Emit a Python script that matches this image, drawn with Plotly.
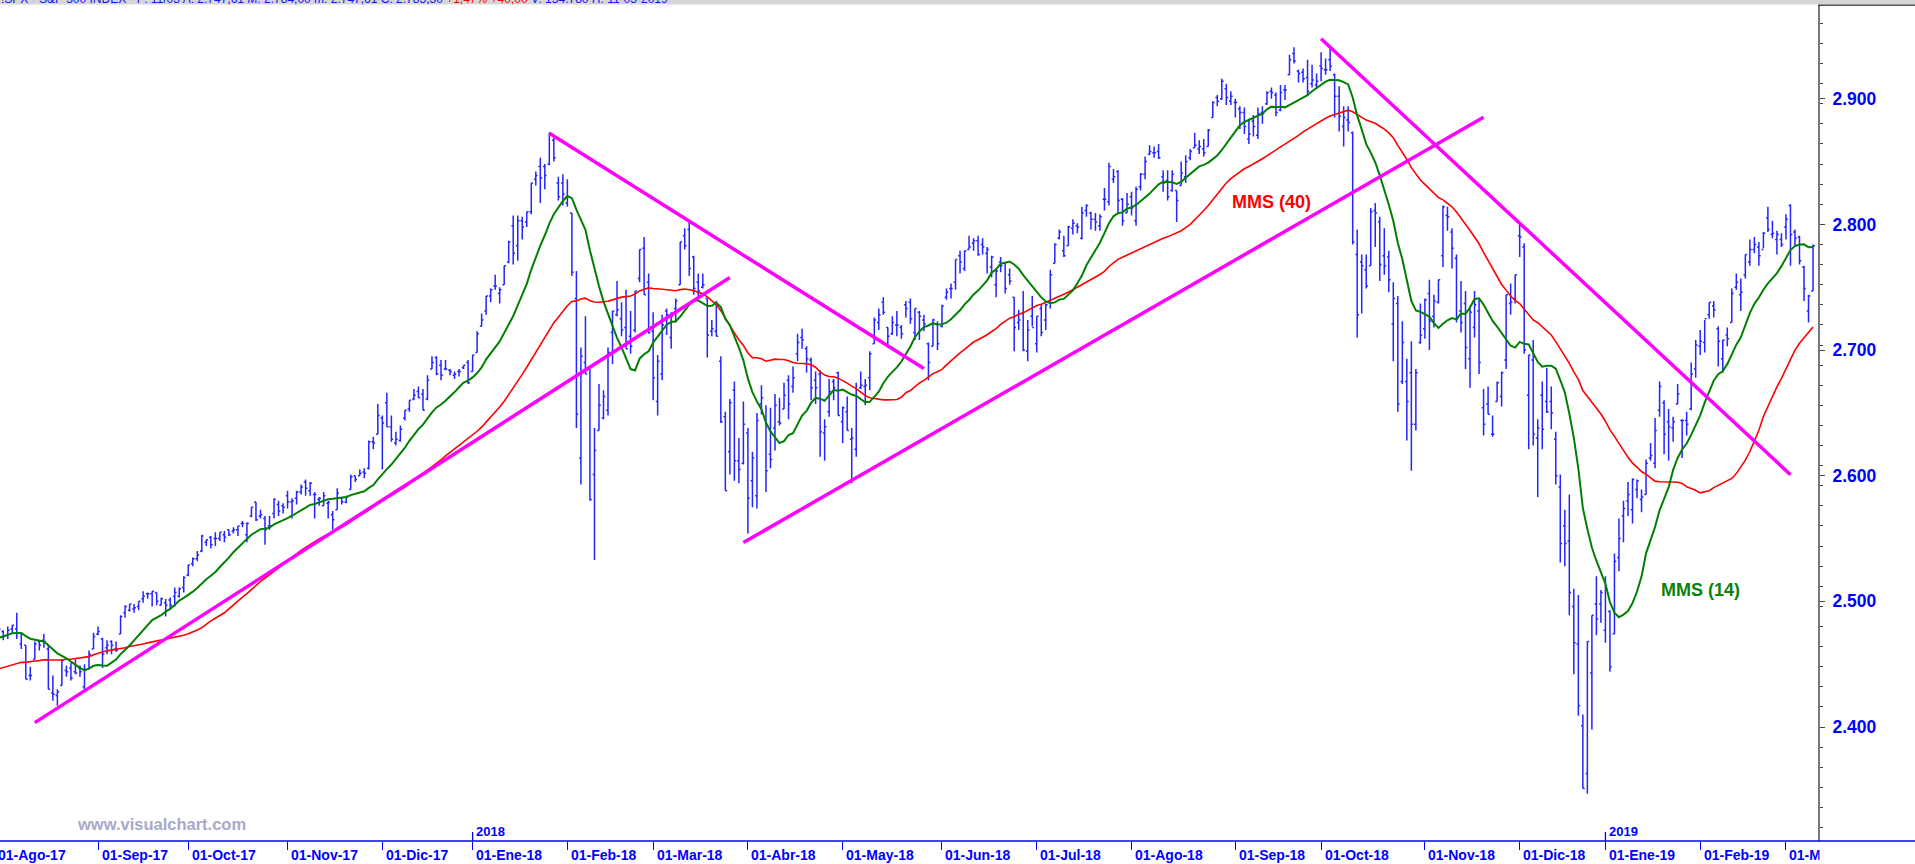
import numpy as np
import pandas as pd
import plotly.graph_objects as go

# ---------------- DATA (S&P 500 daily bars) ----------------
# closes used only to warm up the moving averages (Jun-Jul 2017, off-screen)
warmup_closes = [
    2430, 2439, 2436, 2429, 2433, 2434, 2432, 2429, 2440, 2438, 2432, 2433, 2453, 2437, 2436, 2435, 2438, 2439, 2419, 2441, 2420, 2423,
    2429, 2433, 2410, 2425, 2427, 2426, 2443, 2448, 2459, 2459, 2461, 2474, 2473, 2473, 2470, 2477, 2478, 2475, 2472, 2470,
]

opens = [
    # Aug-17
    2477, 2480, 2476, 2473, 2478, 2478, 2466, 2465, 2441, 2454, 2468, 2469, 2462, 2427, 2425, 2433, 2445, 2447, 2444, 2447, 2432, 2446, 2462,
    # Sep-17
    2474, 2470, 2463, 2468, 2462, 2474, 2491, 2493, 2494, 2496, 2502, 2506, 2506, 2507, 2497, 2499, 2501, 2504, 2504, 2511,
    # Oct-17
    2521, 2530, 2534, 2540, 2547, 2551, 2550, 2550, 2553, 2557, 2556, 2557, 2562, 2553, 2568, 2579, 2568, 2566, 2560, 2570, 2577, 2576,
    # Nov-17
    2584, 2579, 2582, 2587, 2595, 2588, 2585, 2581, 2576, 2578, 2569, 2573, 2582, 2579, 2589, 2600, 2600, 2603, 2606, 2627, 2633,
    # Dec-17
    2646, 2658, 2639, 2626, 2628, 2646, 2653, 2661, 2667, 2665, 2661, 2685, 2694, 2688, 2685, 2684, 2680, 2683, 2686, 2690,
    # Jan-18
    2683, 2698, 2719, 2731, 2743, 2751, 2745, 2752, 2770, 2799, 2783, 2803, 2802, 2810, 2836, 2846, 2846, 2848, 2867, 2833, 2833,
    # Feb-18
    2817, 2809, 2741, 2614, 2690, 2686, 2601, 2636, 2646, 2652, 2714, 2728, 2725, 2718, 2711, 2716, 2757, 2781, 2754,
    # Mar-18
    2715, 2659, 2681, 2731, 2710, 2733, 2752, 2791, 2796, 2774, 2754, 2750, 2741, 2715, 2715, 2691, 2647, 2619, 2668, 2612, 2610,
    # Apr-18
    2634, 2596, 2584, 2657, 2645, 2617, 2638, 2643, 2653, 2676, 2671, 2697, 2710, 2701, 2692, 2676, 2681, 2634, 2651, 2675, 2682,
    # May-18
    2643, 2651, 2629, 2621, 2670, 2671, 2678, 2705, 2722, 2738, 2718, 2713, 2720, 2718, 2736, 2738, 2714, 2730, 2724, 2705, 2703, 2721,
    # Jun-18
    2719, 2742, 2749, 2754, 2775, 2765, 2780, 2785, 2787, 2784, 2777, 2766, 2752, 2770, 2769, 2760, 2742, 2722, 2729, 2699, 2727,
    # Jul-18
    2705, 2733, 2724, 2738, 2769, 2789, 2779, 2783, 2797, 2799, 2789, 2811, 2809, 2804, 2799, 2820, 2818, 2836, 2842, 2820, 2809,
    # Aug-18
    2822, 2803, 2830, 2840, 2856, 2857, 2858, 2838, 2835, 2827, 2827, 2831, 2838, 2853, 2861, 2860, 2860, 2862, 2885, 2901, 2900, 2908, 2898,
    # Sep-18
    2897, 2892, 2889, 2868, 2882, 2871, 2889, 2896, 2906, 2903, 2891, 2907, 2919, 2936, 2922, 2921, 2917, 2912, 2911,
    # Oct-18
    2926, 2923, 2931, 2919, 2902, 2878, 2883, 2873, 2776, 2770, 2764, 2767, 2811, 2802, 2775, 2774, 2721, 2737, 2675, 2675, 2682, 2641, 2706,
    # Nov-18
    2717, 2745, 2727, 2738, 2775, 2807, 2794, 2773, 2731, 2737, 2693, 2718, 2731, 2654, 2657, 2633, 2659, 2663, 2692, 2737, 2741,
    # Dec-18
    2791, 2782, 2664, 2692, 2630, 2664, 2659, 2659, 2629, 2591, 2560, 2548, 2496, 2466, 2401, 2363, 2443, 2498, 2498,
    # Jan-19
    2477, 2492, 2474, 2535, 2568, 2580, 2573, 2589, 2581, 2585, 2614, 2610, 2652, 2658, 2643, 2638, 2657, 2644, 2644, 2653, 2685,
    # Feb-19
    2703, 2706, 2728, 2735, 2717, 2693, 2712, 2722, 2750, 2744, 2760, 2770, 2780, 2782, 2780, 2805, 2792, 2788, 2788,
    # Mar-19
    2798, 2815, 2794, 2790, 2766, 2731, 2747,
]

highs = [
    2479, 2480, 2477, 2480, 2481, 2491, 2475, 2465, 2448, 2468, 2469, 2474, 2465, 2441, 2430, 2454, 2449, 2451, 2454, 2449, 2450, 2461, 2475,
    2480, 2471, 2469, 2469, 2468, 2489, 2497, 2498, 2498, 2500, 2508, 2507, 2508, 2507, 2503, 2502, 2503, 2511, 2511, 2520,
    2529, 2535, 2540, 2553, 2549, 2552, 2555, 2555, 2556, 2557, 2559, 2560, 2564, 2563, 2575, 2579, 2573, 2568, 2568, 2582, 2580, 2578,
    2588, 2582, 2588, 2593, 2597, 2595, 2587, 2583, 2587, 2580, 2572, 2590, 2583, 2584, 2601, 2600, 2605, 2606, 2628, 2631, 2657,
    2648, 2666, 2648, 2635, 2640, 2652, 2660, 2669, 2671, 2669, 2680, 2695, 2695, 2692, 2692, 2685, 2683, 2685, 2688, 2692,
    2696, 2715, 2729, 2743, 2749, 2760, 2750, 2767, 2787, 2807, 2807, 2806, 2810, 2833, 2842, 2853, 2848, 2873, 2870, 2838, 2840,
    2836, 2809, 2763, 2702, 2727, 2686, 2638, 2673, 2668, 2702, 2731, 2755, 2738, 2748, 2731, 2747, 2780, 2790, 2761,
    2730, 2696, 2728, 2733, 2730, 2741, 2786, 2797, 2802, 2775, 2761, 2761, 2741, 2724, 2739, 2695, 2651, 2661, 2675, 2630, 2659,
    2638, 2619, 2650, 2672, 2656, 2654, 2665, 2662, 2674, 2680, 2687, 2713, 2717, 2703, 2694, 2683, 2684, 2645, 2677, 2677, 2683,
    2655, 2663, 2638, 2674, 2683, 2677, 2699, 2726, 2733, 2742, 2718, 2727, 2731, 2720, 2739, 2741, 2733, 2731, 2728, 2706, 2725, 2723,
    2736, 2749, 2753, 2772, 2779, 2779, 2791, 2789, 2791, 2789, 2782, 2775, 2765, 2774, 2770, 2765, 2742, 2732, 2747, 2724, 2743,
    2727, 2736, 2737, 2764, 2785, 2796, 2791, 2799, 2804, 2801, 2814, 2816, 2810, 2809, 2808, 2829, 2849, 2844, 2843, 2821, 2825,
    2826, 2830, 2841, 2854, 2863, 2862, 2864, 2843, 2843, 2843, 2827, 2850, 2855, 2860, 2873, 2867, 2868, 2876, 2898, 2903, 2916, 2912, 2906,
    2900, 2894, 2893, 2884, 2887, 2893, 2894, 2906, 2909, 2905, 2911, 2911, 2935, 2941, 2923, 2924, 2931, 2927, 2920,
    2937, 2932, 2940, 2920, 2910, 2894, 2894, 2874, 2796, 2776, 2776, 2813, 2817, 2806, 2797, 2779, 2754, 2743, 2723, 2693, 2707, 2685, 2737,
    2741, 2756, 2744, 2756, 2815, 2814, 2797, 2776, 2755, 2747, 2735, 2747, 2741, 2669, 2671, 2648, 2675, 2683, 2744, 2753, 2760,
    2800, 2785, 2696, 2708, 2645, 2675, 2686, 2671, 2635, 2601, 2573, 2585, 2510, 2505, 2410, 2468, 2489, 2520, 2509,
    2520, 2493, 2538, 2566, 2580, 2595, 2598, 2597, 2589, 2613, 2626, 2646, 2675, 2660, 2653, 2647, 2673, 2645, 2651, 2690, 2708,
    2716, 2724, 2738, 2739, 2719, 2708, 2718, 2749, 2761, 2757, 2776, 2788, 2790, 2786, 2794, 2814, 2803, 2795, 2793,
    2808, 2816, 2796, 2791, 2767, 2744, 2784,
]

lows = [
    2471, 2467, 2469, 2470, 2475, 2470, 2462, 2438, 2437, 2454, 2461, 2463, 2430, 2421, 2417, 2433, 2440, 2437, 2442, 2440, 2429, 2446, 2462,
    2473, 2447, 2458, 2458, 2460, 2474, 2487, 2492, 2491, 2493, 2499, 2502, 2496, 2497, 2497, 2488, 2494, 2496, 2503, 2507,
    2520, 2528, 2532, 2539, 2544, 2542, 2544, 2548, 2547, 2552, 2554, 2552, 2559, 2547, 2567, 2564, 2566, 2545, 2557, 2566, 2568, 2570,
    2574, 2566, 2577, 2585, 2584, 2584, 2566, 2576, 2576, 2566, 2557, 2573, 2577, 2578, 2589, 2595, 2600, 2598, 2605, 2621, 2633,
    2605, 2639, 2627, 2624, 2627, 2644, 2651, 2660, 2662, 2652, 2660, 2685, 2680, 2676, 2684, 2680, 2677, 2679, 2685, 2673,
    2683, 2698, 2719, 2728, 2738, 2748, 2737, 2752, 2769, 2768, 2771, 2788, 2798, 2808, 2831, 2817, 2828, 2847, 2850, 2819, 2815,
    2814, 2759, 2638, 2593, 2681, 2580, 2533, 2636, 2645, 2648, 2689, 2727, 2711, 2701, 2697, 2714, 2754, 2744, 2713,
    2660, 2648, 2676, 2712, 2701, 2722, 2752, 2780, 2759, 2744, 2741, 2749, 2694, 2711, 2711, 2642, 2588, 2601, 2596, 2594, 2609,
    2554, 2575, 2574, 2649, 2587, 2606, 2620, 2640, 2653, 2645, 2666, 2691, 2701, 2682, 2660, 2657, 2615, 2612, 2647, 2660, 2648,
    2626, 2636, 2594, 2615, 2669, 2656, 2668, 2705, 2716, 2728, 2702, 2712, 2711, 2709, 2726, 2721, 2708, 2708, 2715, 2676, 2703, 2700,
    2718, 2740, 2741, 2748, 2761, 2763, 2780, 2779, 2775, 2776, 2761, 2758, 2742, 2762, 2745, 2752, 2699, 2716, 2699, 2691, 2719,
    2698, 2711, 2716, 2733, 2769, 2788, 2774, 2783, 2792, 2793, 2788, 2806, 2796, 2795, 2795, 2811, 2815, 2833, 2809, 2799, 2809,
    2807, 2799, 2827, 2836, 2855, 2853, 2852, 2826, 2819, 2826, 2802, 2831, 2833, 2851, 2861, 2856, 2854, 2862, 2885, 2894, 2899, 2895, 2895,
    2885, 2876, 2872, 2864, 2870, 2868, 2880, 2895, 2900, 2886, 2890, 2899, 2919, 2928, 2913, 2913, 2903, 2909, 2908,
    2914, 2919, 2922, 2885, 2874, 2862, 2874, 2784, 2710, 2729, 2749, 2767, 2782, 2755, 2760, 2746, 2691, 2651, 2673, 2628, 2604, 2636, 2705,
    2709, 2700, 2718, 2737, 2766, 2795, 2765, 2722, 2714, 2685, 2670, 2710, 2681, 2632, 2649, 2631, 2659, 2655, 2685, 2728, 2737,
    2774, 2697, 2621, 2624, 2583, 2621, 2650, 2637, 2593, 2531, 2528, 2489, 2442, 2409, 2351, 2347, 2398, 2473, 2483,
    2467, 2444, 2474, 2524, 2547, 2568, 2562, 2582, 2571, 2585, 2612, 2606, 2647, 2617, 2612, 2627, 2657, 2614, 2632, 2652, 2678,
    2696, 2698, 2725, 2726, 2687, 2682, 2703, 2722, 2748, 2731, 2757, 2767, 2777, 2767, 2781, 2794, 2789, 2776, 2782,
    2788, 2767, 2782, 2768, 2739, 2722, 2747,
]

closes = [
    2476, 2478, 2472, 2477, 2481, 2475, 2474, 2438, 2441, 2466, 2465, 2468, 2430, 2426, 2428, 2453, 2444, 2439, 2443, 2444, 2446, 2458, 2472,
    2476, 2458, 2465, 2465, 2461, 2488, 2496, 2498, 2495, 2500, 2504, 2506, 2508, 2500, 2502, 2497, 2497, 2507, 2510, 2519,
    2529, 2534, 2537, 2552, 2549, 2545, 2550, 2555, 2551, 2553, 2557, 2560, 2562, 2562, 2575, 2565, 2569, 2557, 2560, 2581, 2572, 2575,
    2579, 2580, 2587, 2591, 2590, 2594, 2585, 2582, 2584, 2579, 2565, 2586, 2579, 2583, 2599, 2597, 2602, 2602, 2627, 2626, 2648,
    2642, 2639, 2629, 2629, 2637, 2652, 2660, 2664, 2662, 2652, 2676, 2690, 2681, 2680, 2685, 2683, 2681, 2683, 2688, 2674,
    2696, 2713, 2724, 2743, 2748, 2751, 2748, 2767, 2786, 2777, 2803, 2798, 2810, 2833, 2839, 2837, 2839, 2873, 2853, 2822, 2824,
    2822, 2762, 2649, 2695, 2681, 2581, 2620, 2656, 2663, 2698, 2731, 2732, 2716, 2701, 2703, 2747, 2780, 2744, 2714,
    2678, 2691, 2720, 2728, 2727, 2739, 2786, 2783, 2765, 2749, 2747, 2752, 2712, 2717, 2711, 2643, 2588, 2658, 2612, 2605, 2641,
    2582, 2614, 2644, 2662, 2604, 2613, 2656, 2642, 2664, 2657, 2678, 2706, 2708, 2693, 2670, 2670, 2635, 2639, 2667, 2670, 2648,
    2654, 2636, 2630, 2663, 2672, 2672, 2697, 2724, 2728, 2730, 2711, 2722, 2720, 2713, 2733, 2725, 2733, 2727, 2721, 2690, 2724, 2705,
    2735, 2746, 2749, 2772, 2770, 2779, 2782, 2787, 2776, 2782, 2780, 2774, 2763, 2767, 2749, 2755, 2718, 2724, 2700, 2716, 2718,
    2727, 2714, 2736, 2760, 2784, 2794, 2775, 2798, 2801, 2798, 2809, 2815, 2804, 2802, 2806, 2820, 2846, 2838, 2819, 2803, 2816,
    2813, 2828, 2840, 2850, 2858, 2857, 2853, 2833, 2822, 2840, 2819, 2841, 2850, 2858, 2863, 2862, 2857, 2875, 2897, 2898, 2914, 2901, 2902,
    2897, 2889, 2878, 2872, 2878, 2888, 2888, 2905, 2905, 2889, 2905, 2907, 2931, 2930, 2920, 2916, 2906, 2915, 2914,
    2924, 2923, 2926, 2902, 2886, 2885, 2881, 2786, 2728, 2767, 2751, 2810, 2809, 2768, 2767, 2756, 2741, 2657, 2706, 2659, 2641, 2682, 2712,
    2740, 2723, 2739, 2756, 2814, 2806, 2781, 2726, 2722, 2702, 2730, 2736, 2690, 2641, 2649, 2633, 2674, 2682, 2744, 2738, 2760,
    2790, 2700, 2696, 2633, 2638, 2637, 2651, 2650, 2600, 2546, 2546, 2507, 2467, 2417, 2351, 2468, 2489, 2486, 2507,
    2510, 2448, 2532, 2550, 2574, 2585, 2597, 2596, 2583, 2610, 2616, 2636, 2671, 2633, 2639, 2643, 2665, 2644, 2641, 2681, 2704,
    2707, 2725, 2738, 2732, 2707, 2708, 2709, 2745, 2754, 2746, 2776, 2780, 2784, 2775, 2793, 2796, 2793, 2792, 2784,
    2804, 2792, 2789, 2771, 2749, 2743, 2783,
]

# market holidays (trading calendar)
holidays = ["2017-07-04", "2017-09-04", "2017-11-23", "2017-12-25", "2018-01-01", "2018-01-15",
            "2018-02-19", "2018-03-30", "2018-05-28", "2018-07-04", "2018-09-03", "2018-11-22",
            "2018-12-05", "2018-12-25", "2019-01-01", "2019-01-21", "2019-02-18"]

# trend lines drawn on the chart: (date, price) anchors
trend_start_dates = ["2017-08-14", "2018-01-26", "2018-03-29", "2018-10-01"]
trend_start_prices = [2403.5, 2872.5, 2546.8, 2947.8]
trend_end_dates = ["2018-03-26", "2018-05-25", "2018-11-20", "2019-03-04"]
trend_end_prices = [2757.7, 2685.3, 2885.2, 2600.8]

meses = ["Ene", "Feb", "Mar", "Abr", "May", "Jun", "Jul", "Ago", "Sep", "Oct", "Nov", "Dic"]
y_ticks = [2400, 2500, 2600, 2700, 2800, 2900]
y_ticktext = ["2.400", "2.500", "2.600", "2.700", "2.800", "2.900"]

ma_fast_label = "MMS (14)"
ma_slow_label = "MMS (40)"
ma_fast_pos = ("2019-02-01", 2509)
ma_slow_pos = ("2018-09-14", 2818)

# ---------------- LAYOUT CONSTANTS ----------------
W, H = 1915, 864
ML, MR, MT, MB = 0, 97, 5, 23
PW = W - ML - MR
PH = H - MT - MB
X0, X1 = 1.285, 404.1
Y0, Y1 = 2309.3, 2974.6
BLUE = "#0000ff"
FONT = "Liberation Sans"

cbd = pd.offsets.CustomBusinessDay(holidays=pd.to_datetime(holidays))
warm_dates = pd.date_range("2017-06-01", "2017-07-31", freq=cbd)
dates = pd.date_range("2017-08-01", "2019-03-11", freq=cbd)
assert len(warm_dates) == len(warmup_closes)
assert len(dates) == len(opens) == len(highs) == len(lows) == len(closes)

idx = np.arange(len(dates))
pos = pd.Series(idx, index=dates)
all_x = np.arange(-len(warmup_closes), len(dates))
all_c = pd.Series(warmup_closes + closes, dtype=float)
ma14 = all_c.rolling(14).mean()
ma40 = all_c.rolling(40).mean()


def px(i):
    return (i - X0) / (X1 - X0)


fig = go.Figure()
fig.add_trace(go.Ohlc(
    x=idx, open=opens, high=highs, low=lows, close=closes,
    increasing=dict(line=dict(color="#2424ff", width=1.5)),
    decreasing=dict(line=dict(color="#2424ff", width=1.5)),
    tickwidth=0.4, hoverinfo="skip", showlegend=False,
))
fig.add_trace(go.Scatter(x=all_x, y=ma40, mode="lines", line=dict(color="#ff0000", width=1.6),
                         hoverinfo="skip", showlegend=False))
fig.add_trace(go.Scatter(x=all_x, y=ma14, mode="lines", line=dict(color="#008000", width=2),
                         hoverinfo="skip", showlegend=False))

shapes = []
for sd, sp, ed, ep in zip(trend_start_dates, trend_start_prices, trend_end_dates, trend_end_prices):
    shapes.append(dict(type="line", xref="x", yref="y",
                       x0=pos[pd.Timestamp(sd)], y0=sp, x1=pos[pd.Timestamp(ed)], y1=ep,
                       line=dict(color="#ff00ff", width=3.5), layer="above"))

# full-width blue time axis line
shapes.append(dict(type="line", xref="paper", yref="paper", x0=0, x1=W / PW, y0=0, y1=0,
                   line=dict(color=BLUE, width=1.6), layer="above"))
# top border of the price-scale panel
shapes.append(dict(type="line", xref="paper", yref="paper", x0=1, x1=W / PW, y0=1, y1=1,
                   line=dict(color="#202020", width=1.5), layer="above"))
# grey header strip
shapes.append(dict(type="rect", xref="paper", yref="paper", x0=-0.01, x1=W / PW + 0.01,
                   y0=1 + 0.6 / PH, y1=1 + (MT + 2) / PH,
                   line=dict(width=0), fillcolor="#d6d6d6", layer="above"))

annotations = []
month_first = pos.groupby([dates.year, dates.month]).first()
tickvals = []
for (yy, mm), i in month_first.items():
    tickvals.append(int(i))
    annotations.append(dict(xref="paper", yref="paper", x=px(i), y=0, xanchor="left", yanchor="middle",
                            xshift=1.5, yshift=-13.5, showarrow=False,
                            text=f"01-{meses[mm - 1]}-{yy % 100:02d}",
                            font=dict(family=FONT, size=14, color=BLUE, weight="bold")))
    if mm == 1:
        shapes.append(dict(type="line", xref="x", yref="paper", ysizemode="pixel", yanchor=0,
                           x0=i, x1=i, y0=0, y1=9, line=dict(color=BLUE, width=1.3)))
        annotations.append(dict(xref="paper", yref="paper", x=px(i), y=0, xanchor="left", yanchor="middle",
                                xshift=1.5, yshift=9.5, showarrow=False, text=str(yy),
                                font=dict(family=FONT, size=13, color=BLUE, weight="bold")))

# cover that clips the last date label at the price-scale panel
annotations.append(dict(xref="paper", yref="paper", x=1 + 1.5 / PW, y=0, xanchor="left", yanchor="top",
                        yshift=-2, width=100, height=22, bgcolor="white", showarrow=False, text=" ",
                        borderpad=0))

annotations.append(dict(xref="x", yref="y", x=pos[pd.Timestamp(ma_slow_pos[0])], y=ma_slow_pos[1],
                        text=ma_slow_label, showarrow=False,
                        font=dict(family=FONT, size=18, color="#ff0000", weight="bold")))
annotations.append(dict(xref="x", yref="y", x=pos[pd.Timestamp(ma_fast_pos[0])], y=ma_fast_pos[1],
                        text=ma_fast_label, showarrow=False,
                        font=dict(family=FONT, size=18, color="#0a820a", weight="bold")))

annotations.append(dict(xref="paper", yref="paper", x=161.5 / PW, y=0, xanchor="center", yanchor="middle",
                        yshift=17, showarrow=False,
                        text="www.visualchart.com",
                        font=dict(family=FONT, size=16.5, color="#a6a9c9", weight="bold")))

annotations.append(dict(xref="paper", yref="paper", x=0, y=1, xanchor="left", yanchor="bottom",
                        xshift=-1, yshift=-3, showarrow=False,
                        text=("<span style='color:#1010ff'>!SPX - S&P 500 INDEX - F: 11/03 A: 2.747,61 "
                              "M: 2.784,00 m: 2.747,61 C: 2.783,30 </span>"
                              "<span style='color:#ff0000'>+1,47% +40,00</span>"
                              "<span style='color:#1010ff'> V: 154.780 H: 11-03-2019</span>"),
                        font=dict(family=FONT, size=12)))

fig.update_layout(
    width=W, height=H,
    margin=dict(l=ML, r=MR, t=MT, b=MB, pad=0),
    paper_bgcolor="white", plot_bgcolor="white",
    showlegend=False,
    shapes=shapes, annotations=annotations,
    xaxis=dict(range=[X0, X1], showgrid=False, zeroline=False, showline=False,
               tickvals=tickvals, showticklabels=False, ticks="outside", ticklen=8,
               tickcolor=BLUE, tickwidth=1.3, rangeslider=dict(visible=False), fixedrange=True),
    yaxis=dict(range=[Y0, Y1], side="right", showgrid=False, zeroline=False,
               showline=True, linecolor="#7a7a7a", linewidth=2, mirror=False,
               tickvals=y_ticks, ticktext=y_ticktext, ticks="outside", ticklen=5,
               tickcolor="#404040", tickwidth=1.2, ticklabelstandoff=4,
               tickfont=dict(family=FONT, size=17.5, color=BLUE, weight="bold"),
               minor=dict(ticks="outside", ticklen=3, tickcolor="#404040", tickwidth=1,
                          tick0=2400, dtick=16, showgrid=False),
               fixedrange=True),
)

fig.write_html(
    "out.html",
    config={"displayModeBar": False},
    post_script="document.body.style.margin='0';document.body.style.overflow='hidden';",
)
